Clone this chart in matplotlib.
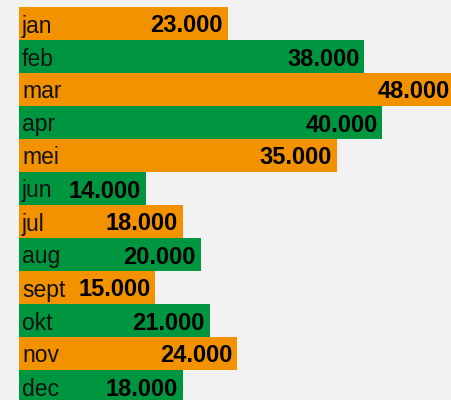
import matplotlib
matplotlib.use("Agg")
import matplotlib.pyplot as plt
from matplotlib.transforms import offset_copy

months = ["jan", "feb", "mar", "apr", "mei", "jun", "jul", "aug", "sept", "okt", "nov", "dec"]
values = [23000, 38000, 48000, 40000, 35000, 14000, 18000, 20000, 15000, 21000, 24000, 18000]
colors = ["#f39200", "#00963f"]

W, H = 451, 400
fig = plt.figure(figsize=(W / 100, H / 100), dpi=100)
fig.patch.set_facecolor("#f2f2f2")

# axes starts at x=19px, top at y=7px, bars are 33px tall
ax = fig.add_axes([19 / W, 0, (W - 19) / W, 393 / H])
ax.set_facecolor("#f2f2f2")

pos = list(range(len(months)))
bar_colors = [colors[i % 2] for i in pos]
ax.barh(pos, values, height=1.0, color=bar_colors, linewidth=0)

ax.set_xlim(0, 432 / (209 / 23000))
ax.set_ylim(-0.5 + 393 / 33, -0.5)
ax.axis("off")

label_tr = offset_copy(ax.transData, fig=fig, x=3, y=0, units="dots")
value_tr = offset_copy(ax.transData, fig=fig, x=-5, y=0, units="dots")
for i, (m, v) in enumerate(zip(months, values)):
    ax.text(0, i, m, transform=label_tr, ha="left", va="center_baseline",
            fontsize=16.5, family="Liberation Sans", color="#111111")
    ax.text(v, i, f"{v:,}".replace(",", "."), transform=value_tr,
            ha="right", va="center_baseline", fontsize=17, fontweight="bold",
            family="Liberation Sans", color="#000000", clip_on=False)

fig.savefig("out.png", dpi=100, facecolor=fig.get_facecolor())
